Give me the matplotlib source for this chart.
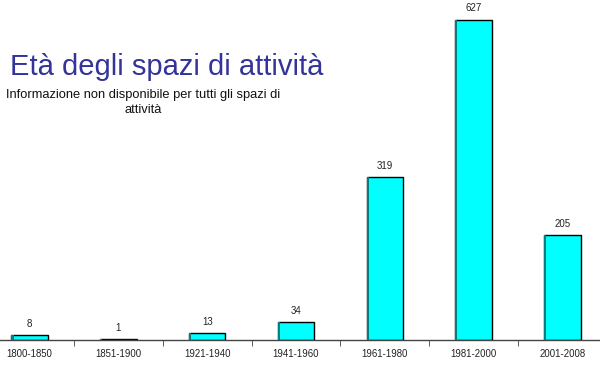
import matplotlib
matplotlib.use("Agg")
import matplotlib.pyplot as plt
import numpy as np

categories = ["1800-1850", "1851-1900", "1921-1940", "1941-1960", "1961-1980", "1981-2000", "2001-2008"]
values = [8, 1, 13, 34, 319, 627, 205]

plt.rcParams['font.family'] = ['Liberation Sans', 'DejaVu Sans']

fig = plt.figure(figsize=(6.0, 3.69), dpi=100)
W, H = 600, 369
left_px, right_px = -14.7, 606.7
base_px, top_px = 339.5, 8.0
ax = fig.add_axes([left_px / W, (H - base_px) / H, (right_px - left_px) / W, (base_px - top_px) / H])

x = np.arange(len(categories))
bw = 0.41
ax.bar(x, values, width=bw, color="#00FFFF", edgecolor="black", linewidth=1.0, zorder=2)
# darker left edge
ax.bar(x - bw / 2 + 0.012, values, width=0.024, color="#008080", linewidth=0, zorder=3)
for xi, v in zip(x, values):
    ax.annotate(str(v), (xi, v), xytext=(0, 4.5), textcoords="offset points",
                ha="center", va="bottom", fontsize=7, color="#222222")

ax.set_xlim(-0.5, len(categories) - 0.5)
ax.set_ylim(0, 650)
for s in ["top", "right", "left"]:
    ax.spines[s].set_visible(False)
ax.spines["bottom"].set_color("#444444")
ax.spines["bottom"].set_linewidth(1.0)
ax.set_yticks([])
ax.set_xticks(x)
ax.set_xticklabels(categories, fontsize=6.9, color="#222222")
ax.tick_params(axis="x", which="major", length=0, pad=6.5)
ax.set_xticks(np.arange(len(categories) + 1) - 0.5, minor=True)
ax.tick_params(axis="x", which="minor", length=4, direction="out", color="#444444")

fig.text(10 / W, 1 - 67 / H, "Età degli spazi di attività", fontsize=21,
         color="#333399", ha="left", va="center")
fig.text(143 / W, 1 - 102.5 / H, "Informazione non disponibile per tutti gli spazi di\nattività",
         fontsize=9.3, color="#111111", ha="center", va="center", linespacing=1.25)

fig.savefig("out.png", dpi=100)
